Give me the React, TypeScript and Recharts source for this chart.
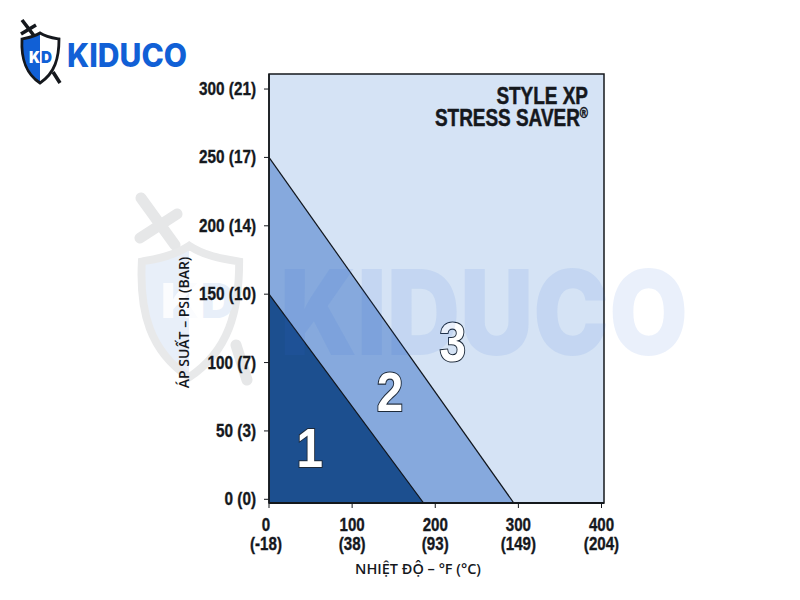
import React from "react";
import { ComposedChart, Area, XAxis, YAxis, ReferenceDot } from "recharts";

const xBreaks = [0, 186, 294.5, 403];
const zone1 = [150, -2.7, null, null];
const zone2 = [250, null, -2.7, null];
const zone3 = [311, null, null, 311];
const rows = xBreaks.map((x, i) => ({ x, zone1: zone1[i], zone2: zone2[i], zone3: zone3[i] }));

const xTicks = [0, 100, 200, 300, 400];
const xCelsius = ["(-18)", "(38)", "(93)", "(149)", "(204)"];
const yTicks = [0, 50, 100, 150, 200, 250, 300];
const yBar = ["(0)", "(3)", "(7)", "(10)", "(14)", "(17)", "(21)"];

const xTitle = "NHIỆT ĐỘ – °F (°C)";
const yTitle = "ÁP SUẤT – PSI (BAR)";

const zoneLabels = [
  { text: "1", x: 49, y: 38 },
  { text: "2", x: 145.5, y: 79 },
  { text: "3", x: 221, y: 116 },
];

const bold = "'Liberation Sans', Arial, sans-serif";
const ink = "#15181d";

const XTick = (p: any) => {
  const i = xTicks.indexOf(p.payload.value);
  const cx = p.x - (i === 0 ? 3 : 0);
  return (
    <g transform={`translate(${cx} ${p.y}) scale(0.84 1)`}>
      <text textAnchor="middle" fontFamily={bold} fontWeight={700} fontSize={18} fill={ink} stroke={ink} strokeWidth={0.35}>
        <tspan x={0} y={21}>{p.payload.value}</tspan>
        <tspan x={0} y={40}>{xCelsius[i]}</tspan>
      </text>
    </g>
  );
};

const YTick = (p: any) => {
  const i = yTicks.indexOf(p.payload.value);
  return (
    <g transform={`translate(${p.x} ${p.y + 6}) scale(0.85 1)`}>
      <text textAnchor="end" fontFamily={bold} fontWeight={700} fontSize={18} fill={ink} stroke={ink} strokeWidth={0.35}>
        {`${p.payload.value} ${yBar[i]}`}
      </text>
    </g>
  );
};

const ZoneNumber = (text: string) => (p: any) => (
  <g transform={`translate(${p.viewBox.x} ${p.viewBox.y + 20}) scale(0.85 1)`}>
    <text
      textAnchor="middle"
      fontFamily={bold}
      fontWeight={700}
      fontSize={56}
      fill="#ffffff"
      stroke="#1d2a3a"
      strokeWidth={2.2}
      paintOrder="stroke"
    >
      {text}
    </text>
  </g>
);

const XTitle = () => (
  <text x={418} y={574} textAnchor="middle" fontFamily="'Open Sans', sans-serif" fontWeight={600} fontSize={14.5} fill={ink}>
    {xTitle}
  </text>
);

const YTitle = () => (
  <text transform="translate(189 322.5) rotate(-90)" textAnchor="middle" fontFamily="'Open Sans', sans-serif" fontWeight={600} fontSize={14} fill={ink}>
    {yTitle}
  </text>
);

const Shield = () => (
  <>
    <path d="M40 32 C34 36 27 38 21 38 C21 58 24 73 40 83 Z" fill="var(--left)" />
    <path d="M40 32 C46 36 53 38 59 38 C60 58 56 73 40 83 Z" fill="var(--right)" />
    <path d="M40 33 C34 37 27 38 22 39 C21 58 25 73 40 83 C55 73 59 58 59 39 C53 38 46 37 40 33 Z" fill="none" stroke="currentColor" strokeWidth="var(--edge)" />
  </>
);

export default function App() {
  return (
    <div style={{ position: "absolute", left: 0, top: 0, width: 800, height: 600, background: "#fff", overflow: "hidden" }}>
      <svg width={800} height={600} style={{ position: "absolute", left: 0, top: 0 }}>
        <path d="M141 198 L175 245 M140 238 L177 214 M236 345 L247 380" stroke="#e6e7e8" strokeWidth={11} fill="none" strokeLinecap="round" />
        <g
          transform="translate(84 159) scale(2.63)"
          style={{ color: "#e8e9ea", ["--left" as any]: "#e8eff9", ["--right" as any]: "#ffffff", ["--edge" as any]: 3 }}
        >
          <Shield />
        </g>
        <text x={161} y={318} textLength={38} lengthAdjust="spacingAndGlyphs" fontFamily="Inter, sans-serif" fontWeight={900} fontSize={48} fill="#fbfcfe">K</text>
        <text x={201} y={318} textLength={34} lengthAdjust="spacingAndGlyphs" fontFamily="Inter, sans-serif" fontWeight={900} fontSize={48} fill="#e8eff9">D</text>
      </svg>

      <ComposedChart width={800} height={600} data={rows} margin={{ left: 0, top: 74, right: 196, bottom: 0 }}>
        <XAxis
          dataKey="x"
          type="number"
          domain={[0, 403]}
          ticks={xTicks}
          interval={0}
          height={97}
          tickSize={5}
          tick={<XTick />}
          stroke={ink}
          axisLine={{ stroke: ink, strokeWidth: 2 }}
          label={XTitle}
        />
        <YAxis
          type="number"
          domain={[-2.7, 311]}
          ticks={yTicks}
          interval={0}
          width={269}
          tickSize={5}
          tickMargin={8}
          tick={<YTick />}
          stroke={ink}
          axisLine={{ stroke: ink, strokeWidth: 1.5 }}
          allowDataOverflow
          label={YTitle}
        />
        <Area dataKey="zone3" type="linear" baseValue={-2.7} connectNulls fill="#d5e3f5" fillOpacity={1} stroke="none" isAnimationActive={false} dot={false} activeDot={false} />
        <Area dataKey="zone2" type="linear" baseValue={-2.7} connectNulls fill="#86a9dd" fillOpacity={1} stroke="#10151c" strokeWidth={1.2} isAnimationActive={false} dot={false} activeDot={false} />
        <Area dataKey="zone1" type="linear" baseValue={-2.7} connectNulls fill="#1c4f8f" fillOpacity={1} stroke="#10151c" strokeWidth={1.2} isAnimationActive={false} dot={false} activeDot={false} />
        {zoneLabels.map((z) => (
          <ReferenceDot key={z.text} x={z.x} y={z.y} r={0} stroke="none" fill="none" label={ZoneNumber(z.text)} />
        ))}
      </ComposedChart>

      <svg width={800} height={600} style={{ position: "absolute", left: 0, top: 0, pointerEvents: "none" }}>
        <rect x={269} y={74} width={335} height={429} fill="none" stroke={ink} strokeWidth={1.5} />
        <g transform="translate(588 104) scale(0.79 1)">
          <text textAnchor="end" fontFamily={bold} fontWeight={700} fontSize={24} fill={ink} stroke={ink} strokeWidth={0.5}>STYLE XP</text>
        </g>
        <g transform="translate(588 126) scale(0.79 1)">
          <text textAnchor="end" fontFamily={bold} fontWeight={700} fontSize={24} fill={ink} stroke={ink} strokeWidth={0.5}>
            STRESS SAVER<tspan fontSize={14} dy={-8}>®</tspan>
          </text>
        </g>

        <text x={280} y={355} textLength={408} lengthAdjust="spacingAndGlyphs" fontFamily="Inter, sans-serif" fontWeight={900} fontSize={118} fill="#2f6fd6" fillOpacity={0.1}>KIDUCO</text>

        <path d="M22 20 L35 37 M21 34 L36 25 M53 72 L60 83" stroke="#15181d" strokeWidth={3.6} fill="none" />
        <g style={{ color: "#15181d", ["--left" as any]: "#1160d6", ["--right" as any]: "#ffffff", ["--edge" as any]: 2.8 }}>
          <Shield />
        </g>
        <text x={29} y={63} textLength={11} lengthAdjust="spacingAndGlyphs" fontFamily="Inter, sans-serif" fontWeight={900} fontSize={16} fill="#fff">K</text>
        <text x={41} y={63} textLength={11} lengthAdjust="spacingAndGlyphs" fontFamily="Inter, sans-serif" fontWeight={900} fontSize={16} fill="#1160d6">D</text>
        <text x={67} y={67} textLength={120} lengthAdjust="spacingAndGlyphs" fontFamily="Inter, sans-serif" fontWeight={800} fontSize={32} fill="#1160d6">KIDUCO</text>
      </svg>
    </div>
  );
}
